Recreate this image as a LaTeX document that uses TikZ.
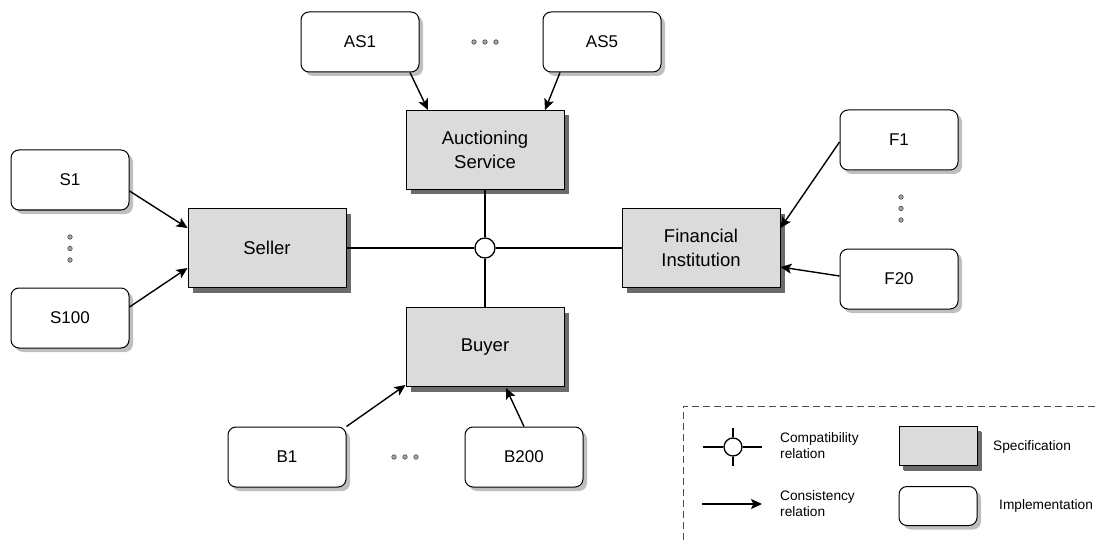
\documentclass[tikz,border=0pt]{standalone}
\usepackage{fontspec}
\setmainfont{Liberation Sans}
\usetikzlibrary{shadows,arrows.meta}
\begin{document}
\begin{tikzpicture}[x=1pt,y=-1pt,
  impl/.style={draw, line width=1pt, rounded corners=8pt, fill=white,
    minimum width=118pt, minimum height=60pt, inner sep=0pt,
    font=\fontsize{17}{20}\selectfont,
    drop shadow={shadow xshift=4pt, shadow yshift=-4pt, fill=black!25, opacity=1}},
  spec/.style={draw, line width=1pt, fill=black!14,
    minimum width=158pt, minimum height=79pt, inner sep=0pt, align=center,
    font=\fontsize{18.5}{23.5}\selectfont,
    drop shadow={shadow xshift=5pt, shadow yshift=-5pt, fill=black!58, opacity=1}},
  con/.style={line width=1.4pt, -{Stealth[length=11pt,width=10pt,inset=2.5pt]}},
  compat/.style={line width=1.3pt},
  relcirc/.style={circle, draw, line width=1.3pt, fill=white, inner sep=0pt},
  dotmark/.style={circle, draw=black!70, fill=black!35, line width=0.6pt, inner sep=0pt, minimum size=4.5pt},
  legtext/.style={anchor=west, align=left, inner sep=0pt, font=\fontsize{13.7}{16}\selectfont}
]
\useasboundingbox (0,0) rectangle (1097,540);

% specification nodes
\node[spec] (auc) at (485,150) {Auctioning\\Service};
\node[spec] (seller) at (267,248) {Seller};
\node[spec] (fin) at (701,248) {Financial\\Institution};
\node[spec] (buyer) at (485,347) {Buyer};

% implementation nodes
\node[impl] (as1) at (360,42) {AS1};
\node[impl] (as5) at (602,42) {AS5};
\node[impl] (s1) at (70,180) {S1};
\node[impl] (s100) at (70,318) {S100};
\node[impl] (f1) at (899,140) {F1};
\node[impl] (f20) at (899,279) {F20};
\node[impl] (b1) at (287,457) {B1};
\node[impl] (b200) at (524,457) {B200};

% ellipsis dots
\foreach \i/\x in {1/474,2/485,3/496} \node[dotmark] (da\i) at (\x,42) {};
\foreach \i/\x in {1/394,2/405,3/416} \node[dotmark] (db\i) at (\x,457) {};
\foreach \i/\y in {1/237,2/248.5,3/260} \node[dotmark] (ds\i) at (70,\y) {};
\foreach \i/\y in {1/197,2/208.5,3/220} \node[dotmark] (df\i) at (901,\y) {};

% compatibility relation
\node[relcirc, minimum size=20pt] (hub) at (485,248) {};
\draw[compat] (auc.south) -- (hub.north);
\draw[compat] (buyer.north) -- (hub.south);
\draw[compat] (seller.east) -- (hub.west);
\draw[compat] (fin.west) -- (hub.east);

% consistency relations
\draw[con] ([xshift=50pt]as1.south) -- ([xshift=-57pt]auc.north);
\draw[con] ([xshift=-42pt]as5.south) -- ([xshift=60pt]auc.north);
\draw[con] ([yshift=-11pt]s1.east) -- ([yshift=20pt]seller.west);
\draw[con] ([yshift=11pt]s100.east) -- ([yshift=-20pt]seller.west);
\draw[con] ([yshift=-2pt]f1.west) -- ([yshift=20pt]fin.east);
\draw[con] ([yshift=3pt]f20.west) -- ([yshift=-19pt]fin.east);
\draw[con] (b1.north east) -- ([yshift=2pt]buyer.south west);
\draw[con] (b200.north) -- ([xshift=21pt,yshift=-1pt]buyer.south);

% legend
\coordinate (lgb) at (683,540);
\coordinate (lgc) at (683,406);
\coordinate (lgr) at (1097,406);
\draw[black!70, line width=0.8pt, dash pattern=on 7pt off 4pt] (lgb) -- (lgc) -- (lgr);

\node[relcirc, minimum size=18pt] (lhub) at (733,447) {};
\coordinate (lhl) at (703,447);
\coordinate (lhr) at (762,447);
\coordinate (lht) at (733,428);
\coordinate (lhb) at (733,466);
\draw[compat] (lhl) -- (lhub.west);
\draw[compat] (lhub.east) -- (lhr);
\draw[compat] (lht) -- (lhub.north);
\draw[compat] (lhub.south) -- (lhb);
\node[legtext] (lcompat) at (780,446) {Compatibility\\relation};

\coordinate (lal) at (702,504);
\coordinate (lar) at (762,504);
\draw[con] (lal) -- (lar);
\node[legtext] (lcons) at (780,504) {Consistency\\relation};

\node[spec, minimum width=78pt, minimum height=39pt,
  drop shadow={shadow xshift=4pt, shadow yshift=-4pt, fill=black!58, opacity=1}] (lspec) at (938,446) {};
\node[legtext] (lspect) at (993,447) {Specification};

\node[impl, minimum width=78pt, minimum height=39pt] (limpl) at (938,506) {};
\node[legtext] (limplt) at (999,506) {Implementation};
\end{tikzpicture}
\end{document}
